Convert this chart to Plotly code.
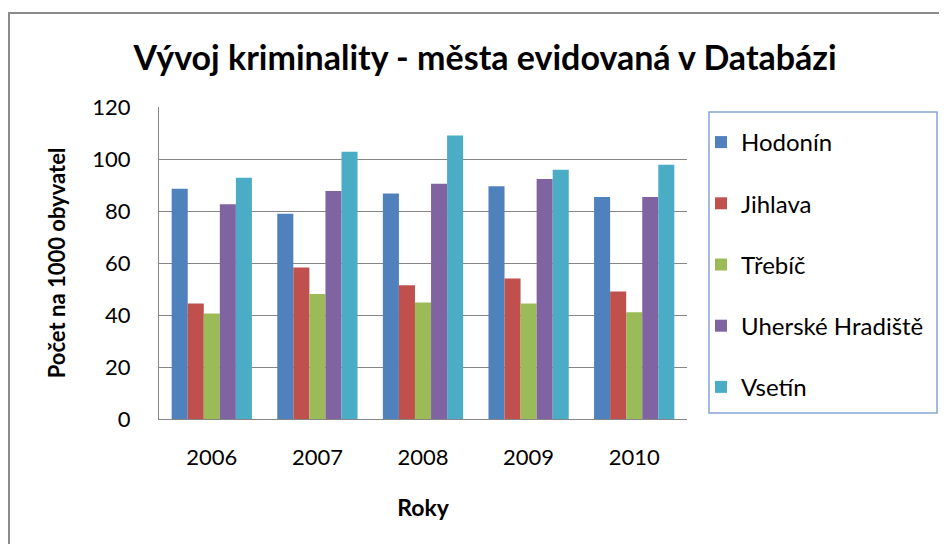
import plotly.graph_objects as go

# Data
roky = ['2006', '2007', '2008', '2009', '2010']
hodonin = [88.6, 78.9, 86.7, 89.5, 85.4]
jihlava = [44.4, 58.3, 51.4, 54.0, 49.0]
trebic = [40.6, 48.1, 44.8, 44.4, 41.1]
uherske_hradiste = [82.6, 87.7, 90.5, 92.3, 85.4]
vsetin = [92.8, 102.8, 109.0, 95.9, 97.8]

series = [
    ('Hodonín', hodonin, '#4F81BD'),
    ('Jihlava', jihlava, '#C0504D'),
    ('Třebíč', trebic, '#9BBB59'),
    ('Uherské Hradiště', uherske_hradiste, '#8064A2'),
    ('Vsetín', vsetin, '#4BACC6'),
]

font_name = 'Lato'

fig = go.Figure()

for name, values, color in series:
    fig.add_trace(
        go.Bar(
            x=roky,
            y=values,
            name=name,
            legendgroup=name,
            marker=dict(color=color, line=dict(width=0)),
        )
    )

# page body adds an 8px margin, so the figure is drawn offset by that
OFF = 8
W, H = 947 - OFF, 544 - OFF

# plot area in screen pixels
L, R, T, B = 159, 687, 107, 419
def px(x):
    return (x - L) / (R - L)
def py(y):
    return (B - y) / (B - T)

fig.update_layout(
    width=W,
    height=H,
    margin=dict(l=L - OFF, r=W - (R - OFF), t=T - OFF, b=H - (B - OFF)),
    barmode='group',
    bargap=0.24,
    bargroupgap=0,
    plot_bgcolor='white',
    paper_bgcolor='white',
    font=dict(family=font_name, color='black', size=22),
    title=dict(
        text='<b>Vývoj kriminality - města evidovaná v Databázi</b>',
        font=dict(family=font_name, size=34, color='black'),
        x=(485 - OFF) / W, xanchor='center', xref='container',
        y=1 - (58 - OFF) / H, yanchor='middle', yref='container',
    ),
    legend=dict(
        x=px(701), xanchor='left',
        y=py(120), yanchor='top',
        font=dict(family=font_name, size=24),
        tracegroupgap=27,
        bgcolor='rgba(0,0,0,0)',
        borderwidth=0,
    ),
    shapes=[
        # outer chart border
        dict(type='path', xref='paper', yref='paper',
             path=f'M {px(9)},{py(560)} L {px(9)},{py(13)} L {px(960)},{py(13)}',
             line=dict(color='#8c8c8c', width=2)),
        # legend box
        dict(type='rect', xref='paper', yref='paper',
             x0=px(709), x1=px(937), y0=py(413), y1=py(112),
             line=dict(color='#86a4d4', width=1.5)),
    ],
)

fig.update_yaxes(
    range=[0, 120],
    dtick=20,
    showgrid=True,
    gridcolor='#868686',
    gridwidth=1,
    showline=True,
    linecolor='#868686',
    zeroline=False,
    ticklabelstandoff=23,
    tickfont=dict(size=22),
    title=dict(text='<b>Počet na 1000 obyvatel</b>', font=dict(size=22), standoff=20),
)
fig.update_xaxes(
    showline=True,
    linecolor='#868686',
    ticklabelstandoff=19,
    tickfont=dict(size=22),
    title=dict(text='<b>Roky</b>', font=dict(size=23), standoff=30),
)

fig.write_html('out.html')
